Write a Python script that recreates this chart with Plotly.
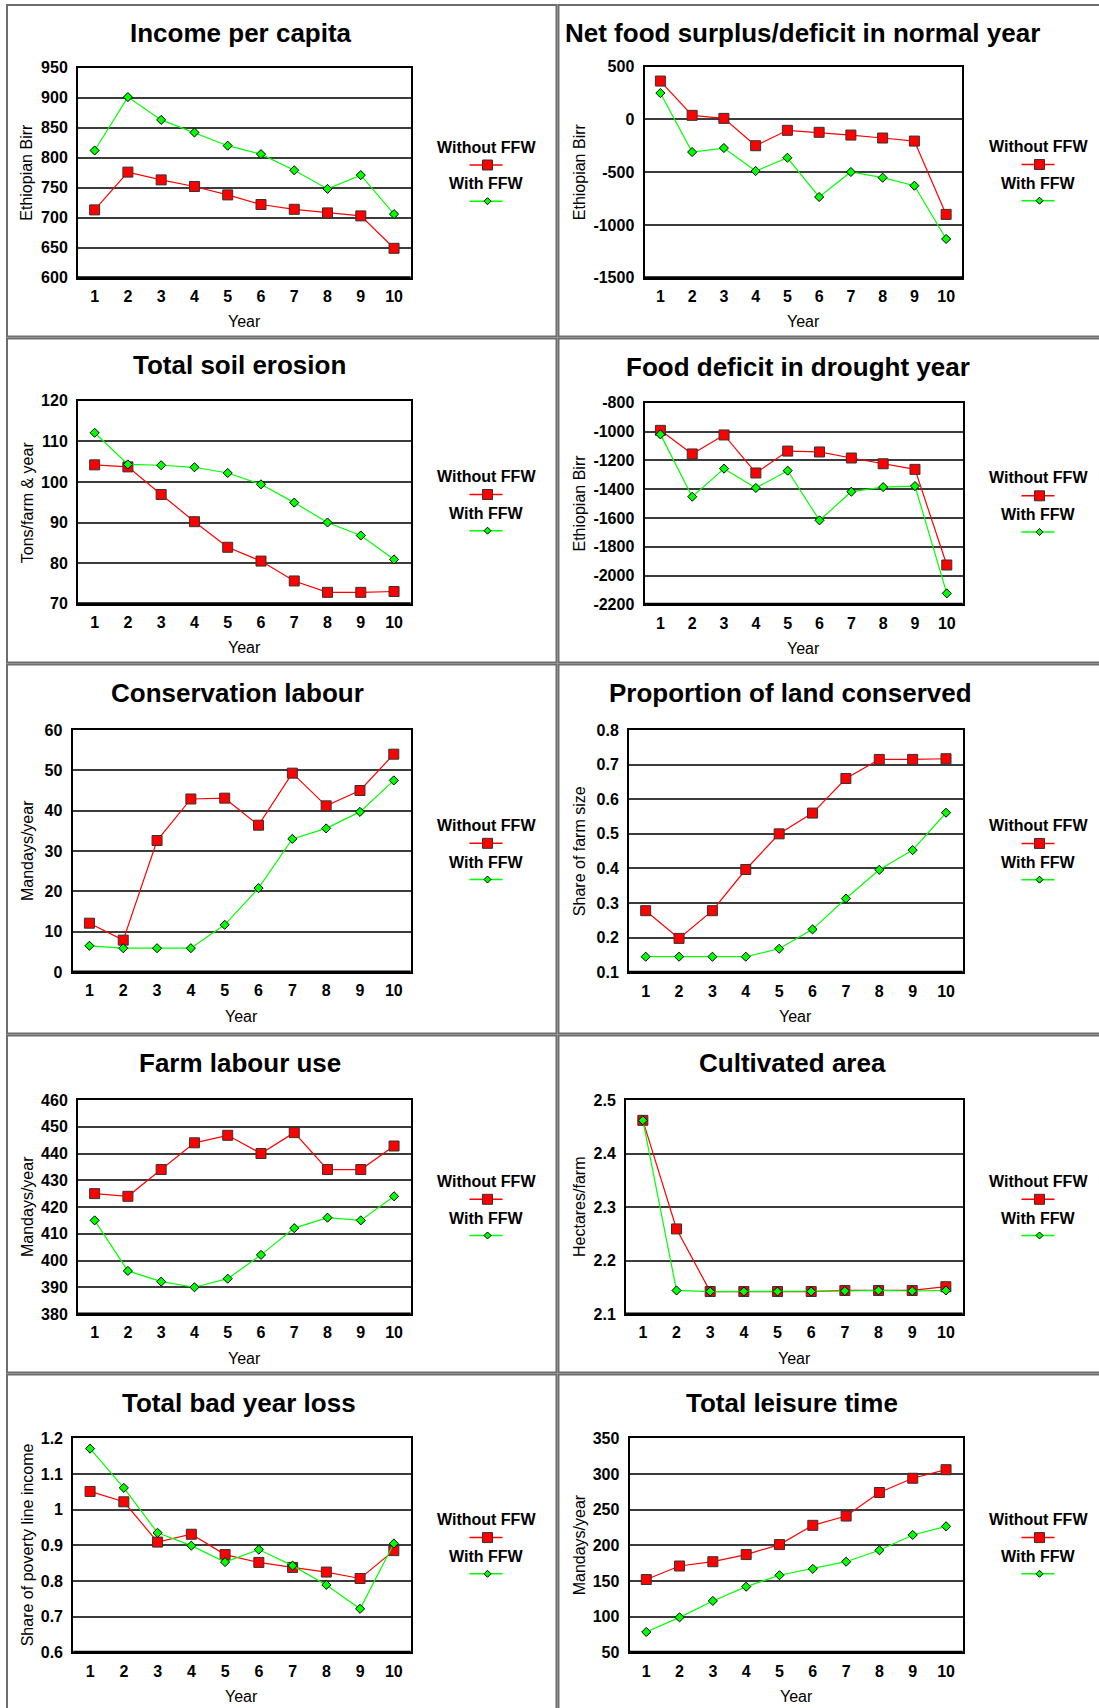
import plotly.graph_objects as go

W, H = 1099, 1708

# ---------------- data ----------------
years = list(range(1, 11))

income_without = [713, 776, 763, 752, 738, 722, 714, 708, 703, 649]
income_with = [812, 901, 863, 842, 820, 806, 779, 748, 771, 706]
income_ticks = [600, 650, 700, 750, 800, 850, 900, 950]

netfood_without = [364, 39, 10, -249, -103, -122, -148, -176, -205, -900]
netfood_with = [250, -309, -271, -489, -363, -735, -498, -552, -628, -1133]
netfood_ticks = [-1500, -1000, -500, 0, 500]

erosion_without = [104.2, 103.7, 96.9, 90.2, 83.9, 80.5, 75.6, 72.8, 72.8, 73.0]
erosion_with = [112.1, 104.3, 104.1, 103.6, 102.2, 99.4, 94.9, 90.0, 86.8, 80.9]
erosion_ticks = [70, 80, 90, 100, 110, 120]

drought_without = [-992, -1156, -1024, -1288, -1136, -1142, -1184, -1224, -1263, -1927]
drought_with = [-1020, -1453, -1258, -1392, -1272, -1617, -1418, -1386, -1379, -2124]
drought_ticks = [-2200, -2000, -1800, -1600, -1400, -1200, -1000, -800]

conslab_without = [12.1, 7.9, 32.6, 42.9, 43.1, 36.4, 49.3, 41.2, 45.0, 54.0]
conslab_with = [6.5, 5.9, 5.9, 5.9, 11.7, 20.8, 33.0, 35.6, 39.7, 47.5]
conslab_ticks = [0, 10, 20, 30, 40, 50, 60]

landcons_without = [0.278, 0.198, 0.278, 0.397, 0.500, 0.560, 0.660, 0.715, 0.715, 0.717]
landcons_with = [0.145, 0.145, 0.145, 0.145, 0.168, 0.224, 0.313, 0.396, 0.453, 0.561]
landcons_ticks = [0.1, 0.2, 0.3, 0.4, 0.5, 0.6, 0.7, 0.8]

farmlab_without = [425.0, 424.0, 434.0, 444.0, 446.8, 440.0, 447.8, 434.0, 434.0, 442.8]
farmlab_with = [415.0, 396.1, 392.1, 390.0, 393.2, 402.1, 412.1, 416.0, 415.0, 424.0]
farmlab_ticks = [380, 390, 400, 410, 420, 430, 440, 450, 460]

cultarea_without = [2.462, 2.259, 2.142, 2.142, 2.142, 2.142, 2.144, 2.144, 2.144, 2.151]
cultarea_with = [2.462, 2.144, 2.142, 2.142, 2.142, 2.142, 2.143, 2.144, 2.143, 2.144]
cultarea_ticks = [2.1, 2.2, 2.3, 2.4, 2.5]

badyear_without = [1.051, 1.022, 0.909, 0.931, 0.874, 0.852, 0.838, 0.825, 0.807, 0.885]
badyear_with = [1.171, 1.061, 0.935, 0.899, 0.853, 0.888, 0.843, 0.789, 0.722, 0.905]
badyear_ticks = [0.6, 0.7, 0.8, 0.9, 1.0, 1.1, 1.2]

leisure_without = [152, 171, 177, 187, 201, 228, 241, 274, 294, 306]
leisure_with = [78.5, 99, 122, 142, 158, 167, 177, 193, 214.5, 226.6]
leisure_ticks = [50, 100, 150, 200, 250, 300, 350]

series_names = ["Without FFW", "With FFW"]

# ---------------- layout helpers ----------------
FONT = "Arial, 'Liberation Sans', Helvetica, sans-serif"
RED = "#ff0000"
GREEN = "#00ff00"


def px(x):
    return x / W


def py(y):
    return 1 - y / H


panels = [
    dict(title="Income per capita", ytitle="Ethiopian Birr", a=income_without, b=income_with,
         ticks=income_ticks, box=(78, 67.7, 410.7, 277.7), tx=241, ty=33),
    dict(title="Net food surplus/deficit in normal year", ytitle="Ethiopian Birr", a=netfood_without,
         b=netfood_with, ticks=netfood_ticks, box=(644.5, 66.7, 962, 277.7), tx=802, ty=33),
    dict(title="Total soil erosion", ytitle="Tons/farm & year", a=erosion_without, b=erosion_with,
         ticks=erosion_ticks, box=(78, 400.7, 410.7, 603.7), tx=239, ty=365),
    dict(title="Food deficit in drought year", ytitle="Ethiopian Birr", a=drought_without, b=drought_with,
         ticks=drought_ticks, box=(644.5, 402.7, 962.7, 604.3), tx=798, ty=367),
    dict(title="Conservation labour", ytitle="Mandays/year", a=conslab_without, b=conslab_with,
         ticks=conslab_ticks, box=(72.5, 730, 410.7, 972), tx=237, ty=693),
    dict(title="Proportion of land conserved", ytitle="Share of farm size", a=landcons_without,
         b=landcons_with, ticks=landcons_ticks, box=(629, 730, 962.7, 972.3), tx=790, ty=693),
    dict(title="Farm labour use", ytitle="Mandays/year", a=farmlab_without, b=farmlab_with,
         ticks=farmlab_ticks, box=(78, 1100, 410.7, 1314), tx=240, ty=1063),
    dict(title="Cultivated area", ytitle="Hectares/farm", a=cultarea_without, b=cultarea_with,
         ticks=cultarea_ticks, box=(626, 1100, 962.7, 1314), tx=792, ty=1063),
    dict(title="Total bad year loss", ytitle="Share of poverty line income", a=badyear_without,
         b=badyear_with, ticks=badyear_ticks, box=(73.2, 1438.3, 410.7, 1652.3), tx=239, ty=1403),
    dict(title="Total leisure time", ytitle="Mandays/year", a=leisure_without, b=leisure_with,
         ticks=leisure_ticks, box=(629.6, 1438.3, 962.7, 1652.3), tx=792, ty=1403),
]

fig = go.Figure()
shapes = []
annotations = []

# panel frames (right column and last row run off the page, as in the original)
col_x = [(7, 556.5), (558.5, 1115)]
row_y = [(5, 336.5), (338.5, 662.5), (664.5, 1033.5), (1035.5, 1372.5), (1374.5, 1725)]
for (y0, y1) in row_y:
    for (x0, x1) in col_x:
        shapes.append(dict(type="rect", xref="paper", yref="paper", x0=px(x0), x1=px(x1),
                           y0=py(y1), y1=py(y0), line=dict(color="#6e6e6e", width=2),
                           fillcolor="rgba(0,0,0,0)", layer="below"))

for i, p in enumerate(panels):
    n = i + 1
    xa = "x" if n == 1 else f"x{n}"
    ya = "y" if n == 1 else f"y{n}"
    xkey = "xaxis" if n == 1 else f"xaxis{n}"
    ykey = "yaxis" if n == 1 else f"yaxis{n}"
    x0, y0, x1, y1 = p["box"]
    right_col = (i % 2 == 1)

    fig.add_trace(go.Scatter(
        x=years, y=p["a"], name=series_names[0], mode="lines+markers", xaxis=xa, yaxis=ya,
        line=dict(color=RED, width=1.2),
        marker=dict(symbol="square", size=10, color=RED, line=dict(color="#333333", width=1)),
        showlegend=False, cliponaxis=False))
    fig.add_trace(go.Scatter(
        x=years, y=p["b"], name=series_names[1], mode="lines+markers", xaxis=xa, yaxis=ya,
        line=dict(color=GREEN, width=1.2),
        marker=dict(symbol="diamond", size=7, color=GREEN, line=dict(color="#000000", width=1)),
        showlegend=False, cliponaxis=False))

    ticks = p["ticks"]
    fig.update_layout(**{
        xkey: dict(domain=[px(x0), px(x1)], anchor=ya, range=[0.5, 10.5], automargin=False,
                   tickmode="array", tickvals=years, ticktext=[str(v) for v in years],
                   showgrid=False, zeroline=False, showline=True, mirror=True,
                   linecolor="black", linewidth=2, ticks="outside", ticklen=3,
                   tickcolor="rgba(0,0,0,0)",
                   tickfont=dict(family=FONT, size=16, color="black", weight="bold"),
                   fixedrange=True),
        ykey: dict(domain=[py(y1), py(y0)], anchor=xa, range=[ticks[0], ticks[-1]], automargin=False,
                   tickmode="array", tickvals=ticks, ticktext=[f"{v:g}" for v in ticks],
                   showgrid=True, gridcolor="#3c3c3c", gridwidth=1.6, zeroline=False,
                   showline=True, mirror=True, linecolor="black", linewidth=2,
                   ticks="outside", ticklen=5, tickcolor="rgba(0,0,0,0)",
                   tickfont=dict(family=FONT, size=16, color="black", weight="bold"),
                   fixedrange=True),
    })

    # thicker bottom axis
    shapes.append(dict(type="line", xref="paper", yref="paper", x0=px(x0), x1=px(x1),
                       y0=py(y1), y1=py(y1), line=dict(color="black", width=3)))

    # title
    annotations.append(dict(text=p["title"], xref="paper", yref="paper", x=px(p["tx"]), y=py(p["ty"]),
                            xanchor="center", yanchor="middle", showarrow=False,
                            font=dict(family=FONT, size=26, color="black", weight="bold")))
    # y title
    cy = (y0 + y1) / 2
    annotations.append(dict(text=p["ytitle"], xref="paper", yref="paper",
                            x=px(579 if right_col else 27), y=py(cy), textangle=-90,
                            xanchor="center", yanchor="middle", showarrow=False,
                            font=dict(family=FONT, size=16, color="black")))
    # x title
    annotations.append(dict(text="Year", xref="paper", yref="paper", x=px((x0 + x1) / 2),
                            y=py(y1 + 44), xanchor="center", yanchor="middle", showarrow=False,
                            font=dict(family=FONT, size=16, color="black")))

    # legend (text above sample line)
    lx = 1038 if right_col else 486
    for k, (name, col) in enumerate(zip(series_names, [RED, GREEN])):
        ty_ = cy - 25.5 + k * 36.5
        ly = cy - 7.7 + k * 36.2
        annotations.append(dict(text=name, xref="paper", yref="paper", x=px(lx), y=py(ty_),
                                xanchor="center", yanchor="middle", showarrow=False,
                                font=dict(family=FONT, size=16, color="black", weight="bold")))
        shapes.append(dict(type="line", xref="paper", yref="paper", x0=px(lx - 16.5), x1=px(lx + 16.5),
                           y0=py(ly), y1=py(ly), line=dict(color=col, width=1.5)))
        mx = lx + 1.5
        if k == 0:
            s = 5
            shapes.append(dict(type="rect", xref="paper", yref="paper", x0=px(mx - s), x1=px(mx + s),
                               y0=py(ly + s), y1=py(ly - s), fillcolor=RED,
                               line=dict(color="#333333", width=1)))
        else:
            s = 3.5
            path = (f"M {px(mx - s)},{py(ly)} L {px(mx)},{py(ly - s)} "
                    f"L {px(mx + s)},{py(ly)} L {px(mx)},{py(ly + s)} Z")
            shapes.append(dict(type="path", xref="paper", yref="paper", path=path, fillcolor=GREEN,
                               line=dict(color="#000000", width=1)))

fig.update_layout(
    template="none",
    width=W, height=H, autosize=False,
    margin=dict(l=0, r=0, t=0, b=0, pad=0, autoexpand=False),
    paper_bgcolor="white", plot_bgcolor="white",
    showlegend=False,
    shapes=shapes, annotations=annotations,
    font=dict(family=FONT, color="black"),
)

fig.write_html("out.html", config={"displayModeBar": False},
               post_script="document.body.style.margin='0';document.body.style.overflow='hidden';")
